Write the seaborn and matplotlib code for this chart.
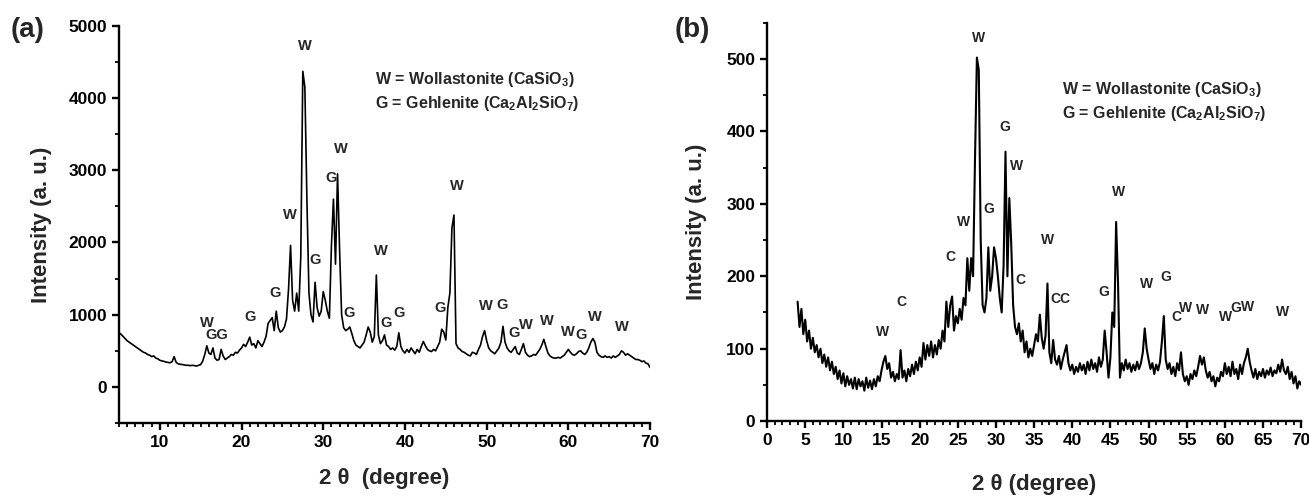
import numpy as np
import matplotlib
matplotlib.use("Agg")
import matplotlib.pyplot as plt
import seaborn as sns
from matplotlib.ticker import MultipleLocator

# XRD pattern (a): 2theta from 5 to 70, step 0.25
start_a, step_a = 5.0, 0.25
intensity_a = [
    750, 730, 700, 670, 640, 620, 600, 580, 560, 540,
    520, 500, 480, 470, 450, 440, 420, 430, 400, 390,
    370, 360, 355, 345, 340, 335, 350, 420, 340, 320,
    315, 310, 305, 300, 300, 295, 300, 295, 290, 300,
    310, 360, 450, 570, 470, 450, 540, 400, 370, 380,
    520, 430, 380, 400, 420, 450, 440, 480, 470, 510,
    540, 590, 560, 620, 690, 580, 600, 540, 640, 600,
    560, 620, 700, 880, 920, 960, 780, 1050, 820, 760,
    780, 830, 940, 1350, 1960, 1200, 1050, 1300, 1050, 1800,
    4370, 4150, 2600, 1300, 1000, 900, 1450, 1100, 980, 1050,
    1320, 1200, 1050, 950, 1950, 2600, 1700, 2950, 1900, 1000,
    820, 780, 800, 830, 740, 640, 580, 560, 540, 580,
    620, 720, 830, 760, 620, 700, 1550, 720, 600, 640,
    720, 580, 560, 520, 540, 510, 560, 750, 560, 500,
    470, 520, 480, 540, 500, 460, 520, 480, 560, 630,
    570, 520, 500, 490, 520, 500, 560, 620, 800, 760,
    650, 1100, 1300, 2200, 2380, 600, 540, 520, 490, 480,
    460, 440, 430, 480, 470, 450, 520, 580, 700, 780,
    640, 540, 500, 480, 460, 500, 540, 620, 840, 620,
    540, 500, 480, 520, 560, 470, 450, 520, 600, 480,
    440, 420, 430, 450, 440, 480, 520, 580, 660, 560,
    470, 430, 410, 400, 400, 410, 400, 420, 440, 480,
    520, 480, 450, 440, 460, 490, 500, 470, 450, 480,
    540, 620, 670, 620, 480, 440, 420, 410, 430, 410,
    420, 400, 430, 410, 430, 450, 500, 480, 440, 460,
    440, 420, 400, 380, 380, 370, 350, 360, 330, 320,
    270,
]

# XRD pattern (b): 2theta from 4 to 70, step 0.25
start_b, step_b = 4.0, 0.25
intensity_b = [
    165, 130, 155, 120, 140, 110, 125, 100, 115, 95,
    105, 88, 100, 80, 92, 75, 88, 70, 82, 65,
    75, 58, 70, 52, 66, 48, 62, 50, 58, 45,
    60, 44, 58, 48, 55, 42, 60, 46, 56, 44,
    58, 48, 62, 55, 70, 82, 90, 72, 80, 60,
    68, 55, 65, 58, 98, 60, 70, 55, 72, 62,
    78, 65, 82, 70, 88, 75, 108, 85, 105, 90,
    110, 88, 105, 92, 112, 100, 125, 110, 165, 130,
    160, 172, 125, 145, 135, 155, 140, 170, 160, 225,
    180, 225, 200, 360, 502, 485, 250, 160, 150, 170,
    240, 180, 200, 240, 225, 200, 170, 150, 215, 372,
    200, 308, 245, 160, 130, 120, 135, 110, 125, 95,
    110, 88, 100, 90, 105, 120, 110, 147, 115, 100,
    118, 190, 95, 80, 112, 85, 78, 90, 72, 85,
    95, 105, 80, 70, 78, 65, 75, 68, 80, 70,
    78, 65, 82, 70, 85, 72, 80, 68, 88, 75,
    85, 125, 95, 60, 88, 150, 130, 275, 190, 60,
    80, 70, 85, 72, 80, 68, 78, 70, 82, 72,
    80, 95, 128, 100, 85, 72, 80, 65, 78, 70,
    82, 110, 145, 85, 72, 80, 65, 75, 62, 80,
    70, 95, 65, 55, 62, 50, 65, 58, 70, 62,
    75, 90, 78, 88, 70, 60, 68, 55, 62, 48,
    60, 55, 68, 62, 80, 65, 75, 62, 82, 65,
    72, 58, 78, 65, 80, 88, 100, 82, 70, 60,
    72, 58, 68, 62, 72, 60, 70, 64, 74, 62,
    70, 66, 78, 68, 85, 70, 65, 75, 58, 68,
    52, 62, 45, 55, 50,
]

# peak markers
peaks_a_x = [15.7, 17.0, 21.0, 24.05, 25.9, 27.8, 29.0, 31.0, 32.2, 33.1, 37.0, 37.7,
             39.3, 44.3, 46.3, 49.9, 51.9, 53.4, 54.8, 57.4, 60.0, 61.5, 63.2, 66.5]
peaks_a_y = [795, 620, 870, 1210, 2290, 4620, 1660, 2800, 3200, 930, 1780, 785,
             925, 990, 2680, 1025, 1040, 655, 760, 810, 670, 620, 870, 740]
peaks_a_txt = ["W", "GG", "G", "G", "W", "W", "G", "G", "W", "G", "W", "G",
               "G", "G", "W", "W", "G", "G", "W", "W", "W", "G", "W", "W"]

peaks_b_x = [15.1, 17.6, 24.0, 25.8, 27.7, 29.0, 31.2, 32.7, 33.2, 36.7, 38.4, 44.2,
             46.1, 49.8, 52.3, 53.6, 54.9, 57.1, 60.1, 61.5, 63.0, 67.6]
peaks_b_y = [113, 155, 217, 265, 520, 283, 397, 343, 185, 240, 159, 168,
             307, 179, 190, 134, 146, 144, 134, 146, 148, 141]
peaks_b_txt = ["W", "C", "C", "W", "W", "G", "G", "W", "C", "W", "CC", "G",
               "W", "W", "G", "C", "W", "W", "W", "G", "W", "W"]

legend_lines = ["W = Wollastonite (CaSiO$_3$)",
                "G = Gehlenite (Ca$_2$Al$_2$SiO$_7$)"]

sns.set_style("ticks")
plt.rcParams["font.family"] = ["Liberation Sans", "DejaVu Sans"]
plt.rcParams["font.weight"] = "bold"
plt.rcParams["mathtext.fontset"] = "custom"
plt.rcParams["mathtext.rm"] = "Liberation Sans:bold"
plt.rcParams["mathtext.it"] = "Liberation Sans:bold"
plt.rcParams["mathtext.bf"] = "Liberation Sans:bold"

theta_a = start_a + step_a * np.arange(len(intensity_a))
theta_b = start_b + step_b * np.arange(len(intensity_b))

fig = plt.figure(figsize=(13.09, 4.96), dpi=100)
ax_a = fig.add_axes([0.0909, 0.147, 0.4057, 0.801])
ax_b = fig.add_axes([0.586, 0.151, 0.408, 0.803])

sns.lineplot(x=theta_a, y=intensity_a, ax=ax_a, color="black", linewidth=1.2)
sns.lineplot(x=theta_b, y=intensity_b, ax=ax_b, color="black", linewidth=1.5)

for ax in (ax_a, ax_b):
    sns.despine(ax=ax)
    for s in ("left", "bottom"):
        ax.spines[s].set_linewidth(1.7)
        ax.spines[s].set_color("black")
    ax.tick_params(which="major", direction="out", length=5, width=1.7,
                   labelsize=12.5, colors="black")
    ax.tick_params(which="minor", direction="out", length=3, width=1.3, colors="black")
    for lab in ax.get_xticklabels() + ax.get_yticklabels():
        lab.set_fontweight("bold")

ax_a.set_xlim(5, 70)
ax_a.set_ylim(-500, 5000)
ax_a.xaxis.set_major_locator(MultipleLocator(10))
ax_a.xaxis.set_minor_locator(MultipleLocator(1))
ax_a.yaxis.set_major_locator(MultipleLocator(1000))
ax_a.yaxis.set_minor_locator(MultipleLocator(500))
ax_a.set_xticks([10, 20, 30, 40, 50, 60, 70])
ax_a.set_yticks([0, 1000, 2000, 3000, 4000, 5000])
ax_a.set_xlabel("2 θ  (degree)", fontsize=16, fontweight="bold", labelpad=13)
ax_a.set_ylabel("Intensity (a. u.)", fontsize=16, fontweight="bold", labelpad=12)

ax_b.set_xlim(0, 70)
ax_b.set_ylim(0, 550)
ax_b.xaxis.set_major_locator(MultipleLocator(5))
ax_b.xaxis.set_minor_locator(MultipleLocator(1))
ax_b.yaxis.set_major_locator(MultipleLocator(100))
ax_b.yaxis.set_minor_locator(MultipleLocator(50))
ax_b.set_yticks([0, 100, 200, 300, 400, 500])
ax_b.set_xlabel("2 θ (degree)", fontsize=16, fontweight="bold", labelpad=19)
ax_b.set_ylabel("Intensity (a. u.)", fontsize=16, fontweight="bold", labelpad=14)

for x, y, t in zip(peaks_a_x, peaks_a_y, peaks_a_txt):
    ax_a.text(x, y, t, ha="center", va="bottom", fontsize=10.5, fontweight="bold")
for x, y, t in zip(peaks_b_x, peaks_b_y, peaks_b_txt):
    ax_b.text(x, y, t, ha="center", va="bottom", fontsize=10, fontweight="bold")

ax_a.text(36.3, 4250, legend_lines[0], fontsize=11.5, fontweight="bold", va="center")
ax_a.text(36.3, 3930, legend_lines[1], fontsize=11.5, fontweight="bold", va="center")
ax_b.text(38.7, 458, legend_lines[0], fontsize=11.5, fontweight="bold", va="center")
ax_b.text(38.7, 425, legend_lines[1], fontsize=11.5, fontweight="bold", va="center")

fig.text(0.008, 0.965, "(a)", fontsize=20, fontweight="bold", va="top")
fig.text(0.515, 0.965, "(b)", fontsize=20, fontweight="bold", va="top")

fig.savefig("out.png", dpi=100)
